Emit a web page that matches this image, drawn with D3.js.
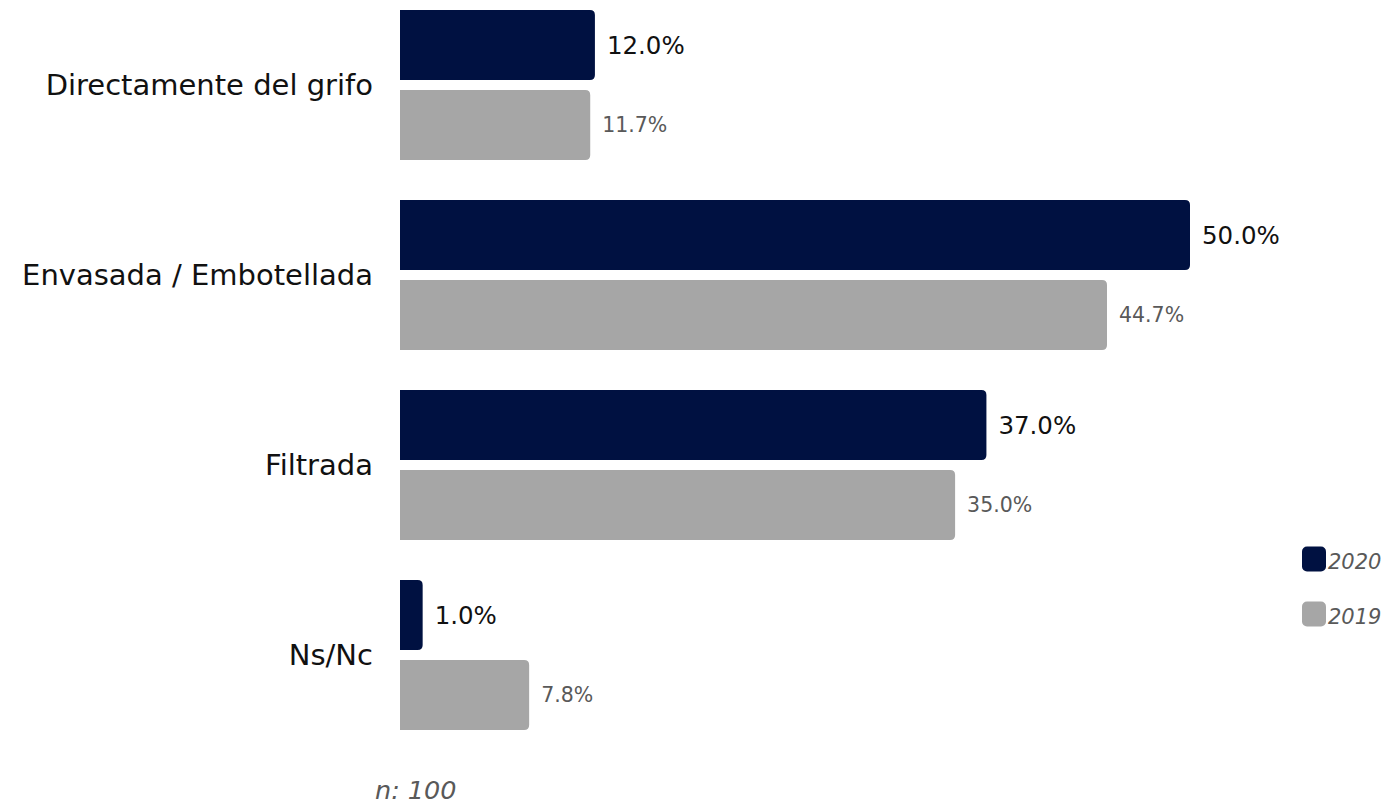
<!DOCTYPE html>
<html>
<head>
<meta charset="utf-8">
<script src="https://cdn.jsdelivr.net/npm/d3@7"></script>
<style>
  html, body { margin: 0; padding: 0; background: #ffffff; }
  svg { display: block; }
</style>
</head>
<body>
<svg id="chart" width="1390" height="808"></svg>
<script>
// ---- data ----
const categories = ["Directamente del grifo", "Envasada / Embotellada", "Filtrada", "Ns/Nc"];
const seriesNames = ["2020", "2019"];
const values2020 = [12.0, 50.0, 37.0, 1.0];
const values2019 = [11.7, 44.7, 35.0, 7.8];
const sampleNote = "n: 100";

// ---- styles ----
const colors = { "2020": "#001141", "2019": "#A6A6A6" };
const labelColors = { "2020": "#111111", "2019": "#595959" };
const labelSizes = { "2020": 24.5, "2019": 20.5 };
const FONT = "'DejaVu Sans', sans-serif";

const svg = d3.select("#chart");
const plotLeft = 400;

const x = d3.scaleLinear().domain([0, 50]).range([407, 1190]);
const y = d3.scaleBand().domain(categories).range([-10, 750])
  .paddingInner(40 / 190).paddingOuter(20 / 190);
const ySub = d3.scaleBand().domain(seriesNames).range([0, y.bandwidth()])
  .paddingInner(10 / 80).paddingOuter(0);

const seriesValues = { "2020": values2020, "2019": values2019 };
const rows = [];
categories.forEach((c, i) => {
  seriesNames.forEach(s => rows.push({ cat: c, series: s, value: seriesValues[s][i] }));
});

function barPath(x0, x1, y0, h, r) {
  r = Math.min(r, (x1 - x0), h / 2);
  return `M${x0},${y0}H${x1 - r}Q${x1},${y0} ${x1},${y0 + r}V${y0 + h - r}Q${x1},${y0 + h} ${x1 - r},${y0 + h}H${x0}Z`;
}

const g = svg.append("g");

g.selectAll("path.bar").data(rows).join("path")
  .attr("class", "bar")
  .attr("fill", d => colors[d.series])
  .attr("d", d => barPath(plotLeft, x(d.value), y(d.cat) + ySub(d.series), ySub.bandwidth(), 5));

g.selectAll("text.val").data(rows).join("text")
  .attr("class", "val")
  .attr("x", d => x(d.value) + 12)
  .attr("y", d => y(d.cat) + ySub(d.series) + ySub.bandwidth() / 2)
  .attr("dy", "0.36em")
  .attr("font-family", FONT)
  .attr("font-size", d => labelSizes[d.series])
  .attr("fill", d => labelColors[d.series])
  .text(d => d.value.toFixed(1) + "%");

// category axis (no line, no ticks)
const yAxis = d3.axisLeft(y).tickSize(0).tickPadding(0);
const ax = svg.append("g").attr("transform", "translate(373,0)").call(yAxis);
ax.select(".domain").remove();
ax.selectAll("text")
  .attr("font-family", FONT)
  .attr("font-size", 29)
  .attr("fill", "#111111")
  .attr("dy", "0.36em");

// legend
const legendY = d3.scalePoint().domain(seriesNames).range([559, 614]);
const lg = svg.append("g");
lg.selectAll("rect").data(seriesNames).join("rect")
  .attr("x", 1302).attr("y", d => legendY(d) - 12.5)
  .attr("width", 24).attr("height", 25).attr("rx", 5)
  .attr("fill", d => colors[d]);
lg.selectAll("text").data(seriesNames).join("text")
  .attr("x", 1328).attr("y", d => legendY(d) + 2)
  .attr("dy", "0.36em")
  .attr("font-family", FONT)
  .attr("font-style", "italic")
  .attr("font-size", 21)
  .attr("fill", "#595959")
  .text(d => d);

// sample note
svg.append("text")
  .attr("x", 375).attr("y", 790).attr("dy", "0.36em")
  .attr("font-family", FONT)
  .attr("font-style", "italic")
  .attr("font-size", 25.5)
  .attr("fill", "#595959")
  .text(sampleNote);
</script>
</body>
</html>
